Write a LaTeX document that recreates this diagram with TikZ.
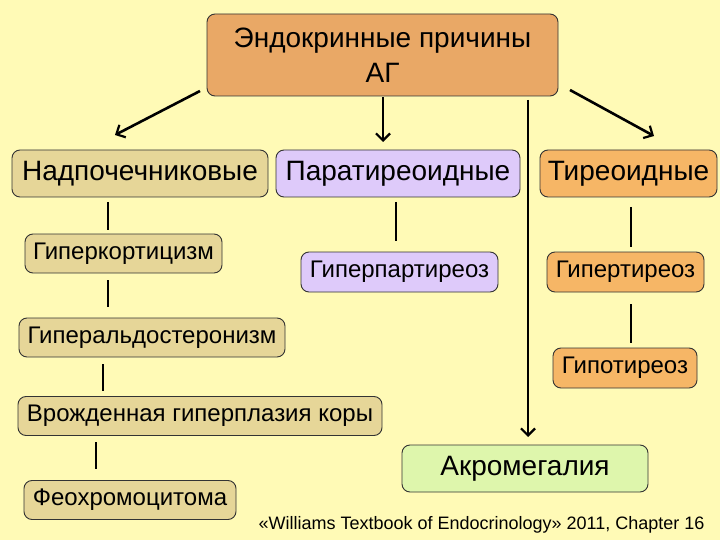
\documentclass[tikz,border=0pt]{standalone}
\usepackage{fontspec}
\setmainfont{Liberation Sans}
\usetikzlibrary{arrows.meta}
\definecolor{bg}{RGB}{255,250,182}
\definecolor{topc}{RGB}{233,168,102}
\definecolor{tanc}{RGB}{230,214,152}
\definecolor{lavc}{RGB}{222,202,250}
\definecolor{orc}{RGB}{246,182,102}
\definecolor{grc}{RGB}{222,246,172}
\tikzset{
  box/.style={draw=black!80, line width=0.9pt, rounded corners=8pt, inner sep=0pt, align=center},
  big/.style={box, font=\fontsize{28}{35}\selectfont},
  mid/.style={box, font=\fontsize{28}{33}\selectfont, minimum height=47pt},
  small/.style={box, font=\fontsize{24}{28}\selectfont, minimum height=39pt},
  link/.style={line width=2.6pt},
  arr/.style={line width=2.6pt, -{Straight Barb[length=7pt,width=14pt,line width=2.2pt]}},
}
\begin{document}
\begin{tikzpicture}[x=1pt,y=-1pt]
\fill[bg] (0,0) rectangle (720,540);
\useasboundingbox (0,0) rectangle (720,540);

\node[big, fill=topc, minimum width=351pt, minimum height=82pt] (top) at (382.5,55) {Эндокринные причины\\АГ};

\node[mid, fill=tanc, minimum width=256pt] (nad) at (140,173.5) {Надпочечниковые};
\node[mid, fill=lavc, minimum width=244pt] (par) at (398,173.5) {Паратиреоидные};
\node[mid, fill=orc, minimum width=177pt] (tir) at (628.5,173.5) {Тиреоидные};

\node[small, fill=tanc, minimum width=197pt] (gk) at (123.5,253.5) {Гиперкортицизм};
\node[small, fill=tanc, minimum width=266pt] (ga) at (152,337.5) {Гиперальдостеронизм};
\node[small, fill=tanc, minimum width=364pt] (vr) at (200,416) {Врожденная гиперплазия коры};
\node[small, fill=tanc, minimum width=212pt] (feo) at (130,500) {Феохромоцитома};

\node[small, fill=lavc, minimum width=197pt, minimum height=40pt] (gpar) at (399.5,272) {Гиперпартиреоз};
\node[small, fill=orc, minimum width=157pt, minimum height=40pt] (gt) at (625.5,272) {Гипертиреоз};
\node[small, fill=orc, minimum width=144pt, minimum height=40pt] (gipo) at (625,368) {Гипотиреоз};

\node[mid, fill=grc, minimum width=246pt] (akr) at (525,468.5) {Акромегалия};

\node[anchor=east, font=\fontsize{18}{21}\selectfont] (foot) at (708,525) {«Williams Textbook of Endocrinology» 2011, Chapter 16};

% arrows
\coordinate (a1s) at (200,91); \coordinate (a1e) at (115,135);
\coordinate (a2s) at (383,97); \coordinate (a2e) at (383,142);
\coordinate (a3s) at (570,90); \coordinate (a3e) at (654,136);
\coordinate (a4s) at (528,100); \coordinate (a4e) at (528,437);
\draw[arr] (a1s) -- (a1e);
\draw[arr] (a2s) -- (a2e);
\draw[arr] (a3s) -- (a3e);
\draw[arr] (a4s) -- (a4e);

% link segments
\coordinate (l1s) at (108,202); \coordinate (l1e) at (108,230);
\coordinate (l2s) at (108,280); \coordinate (l2e) at (108,307);
\coordinate (l3s) at (103,364); \coordinate (l3e) at (103,391);
\coordinate (l4s) at (96,442);  \coordinate (l4e) at (96,469);
\coordinate (l5s) at (396,202); \coordinate (l5e) at (396,241);
\coordinate (l6s) at (631,207); \coordinate (l6e) at (631,247);
\coordinate (l7s) at (631,304); \coordinate (l7e) at (631,343);
\foreach \i in {1,...,7} {\draw[link] (l\i s) -- (l\i e);}
\end{tikzpicture}
\end{document}
